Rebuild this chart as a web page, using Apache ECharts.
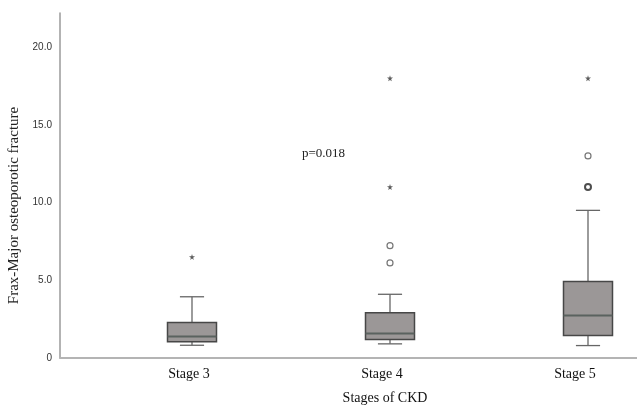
<!DOCTYPE html>
<html>
<head>
<meta charset="utf-8">
<script src="https://cdn.jsdelivr.net/npm/echarts@6/dist/echarts.min.js"></script>
<style>html,body{margin:0;padding:0;background:#fff;}#c{width:637px;height:406px;}</style>
</head>
<body>
<div id="c"></div>
<script>
const categories = ['Stage 3', 'Stage 4', 'Stage 5'];
const positions = [1, 2, 3];
const whiskerLow = [0.82, 0.91, 0.80];
const quartile1 = [1.04, 1.19, 1.45];
const medians = [1.38, 1.58, 2.73];
const quartile3 = [2.28, 2.91, 4.92];
const whiskerHigh = [3.94, 4.10, 9.50];
const outlierCircles = [[2, 7.23], [2, 6.12], [3, 13.0]];
const outlierCirclesMulti = [[3, 11.0]];
const extremeStars = [[1, 6.5], [2, 18.0], [2, 11.0], [3, 18.0]];
const yTicks = [0, 5, 10, 15, 20];
const pValueText = 'p=0.018';

const boxData = positions.map((p, i) => [p, whiskerLow[i], quartile1[i], medians[i], quartile3[i], whiskerHigh[i]]);

function renderBox(params, api) {
  const x = api.value(0);
  const lo = api.coord([x, api.value(1)]);
  const q1 = api.coord([x, api.value(2)]);
  const md = api.coord([x, api.value(3)]);
  const q3 = api.coord([x, api.value(4)]);
  const hi = api.coord([x, api.value(5)]);
  const bw = api.size([0.2475, 0])[0];
  const cw = api.size([0.122, 0])[0];
  const cx = lo[0];
  const wStyle = { stroke: '#666', lineWidth: 1.3 };
  return {
    type: 'group',
    children: [
      { type: 'line', shape: { x1: cx, y1: lo[1], x2: cx, y2: q1[1] }, style: wStyle },
      { type: 'line', shape: { x1: cx, y1: q3[1], x2: cx, y2: hi[1] }, style: wStyle },
      { type: 'line', shape: { x1: cx - cw / 2, y1: lo[1], x2: cx + cw / 2, y2: lo[1] }, style: wStyle },
      { type: 'line', shape: { x1: cx - cw / 2, y1: hi[1], x2: cx + cw / 2, y2: hi[1] }, style: wStyle },
      { type: 'rect', shape: { x: cx - bw / 2, y: q3[1], width: bw, height: q1[1] - q3[1] },
        style: { fill: '#9b9797', stroke: '#474747', lineWidth: 1.5 } },
      { type: 'line', shape: { x1: cx - bw / 2, y1: md[1], x2: cx + bw / 2, y2: md[1] },
        style: { stroke: '#5a625f', lineWidth: 2 } }
    ]
  };
}

const starPath = 'path://M50,0 L61,35 L98,35 L68,57 L79,91 L50,70 L21,91 L32,57 L2,35 L39,35 Z';

const chart = echarts.init(document.getElementById('c'), null, { renderer: 'canvas' });
chart.setOption({
  animation: false,
  backgroundColor: '#fff',
  grid: { left: 60, right: 0, top: 13, bottom: 48, containLabel: false, outerBoundsMode: 'none' },
  xAxis: [
    {
      type: 'value', min: 1 - 132 / 198, max: 3 + 49 / 198, position: 'bottom',
      axisLine: { show: true, onZero: false, lineStyle: { color: '#b4b4b4', width: 2 } },
      axisTick: { show: false }, axisLabel: { show: false }, splitLine: { show: false }
    },
    {
      type: 'value', min: 1 - 129 / 193, max: 3 + 62 / 193, position: 'bottom',
      axisLine: { show: false, onZero: false }, axisTick: { show: false }, splitLine: { show: false },
      axisLabel: {
        customValues: positions,
        formatter: v => categories[Math.round(v) - 1] || '',
        fontFamily: 'Liberation Serif', fontSize: 14, color: '#111', margin: 9
      },
      name: 'Stages of CKD', nameLocation: 'middle', nameGap: 33,
      nameTextStyle: { fontFamily: 'Liberation Serif', fontSize: 14, color: '#111', padding: [0, 0, 0, 73] }
    }
  ],
  yAxis: {
    type: 'value', min: 0, max: 22.2,
    axisLine: { show: true, onZero: false, lineStyle: { color: '#9a9a9a', width: 1.5 } },
    axisTick: { show: false }, splitLine: { show: false },
    axisLabel: {
      customValues: yTicks,
      formatter: v => v === 0 ? '0' : v.toFixed(1),
      fontFamily: 'Liberation Sans', fontSize: 10, color: '#333', margin: 8
    },
    name: 'Frax-Major osteoporotic fracture', nameLocation: 'middle', nameGap: 36,
    nameTextStyle: { fontFamily: 'Liberation Serif', fontSize: 15, color: '#222', padding: [0, 40, 0, 0] }
  },
  series: [
    { type: 'custom', xAxisIndex: 0, renderItem: renderBox, data: boxData, encode: { x: 0, y: [1, 2, 3, 4, 5] }, z: 2 },
    { type: 'scatter', xAxisIndex: 0, data: outlierCircles, symbol: 'circle', symbolSize: 6,
      itemStyle: { color: '#fff', borderColor: '#555', borderWidth: 1.2 }, z: 3 },
    { type: 'scatter', xAxisIndex: 0, data: outlierCirclesMulti, symbol: 'circle', symbolSize: 6,
      itemStyle: { color: '#fff', borderColor: '#222', borderWidth: 2 }, z: 3 },
    { type: 'scatter', xAxisIndex: 0, data: extremeStars, symbol: starPath, symbolSize: 6,
      itemStyle: { color: '#333' }, z: 3 }
  ],
  graphic: [
    { type: 'text', left: 302, top: 147, style: { text: pValueText, font: '13px "Liberation Serif"', fill: '#222' } }
  ]
});
</script>
</body>
</html>
